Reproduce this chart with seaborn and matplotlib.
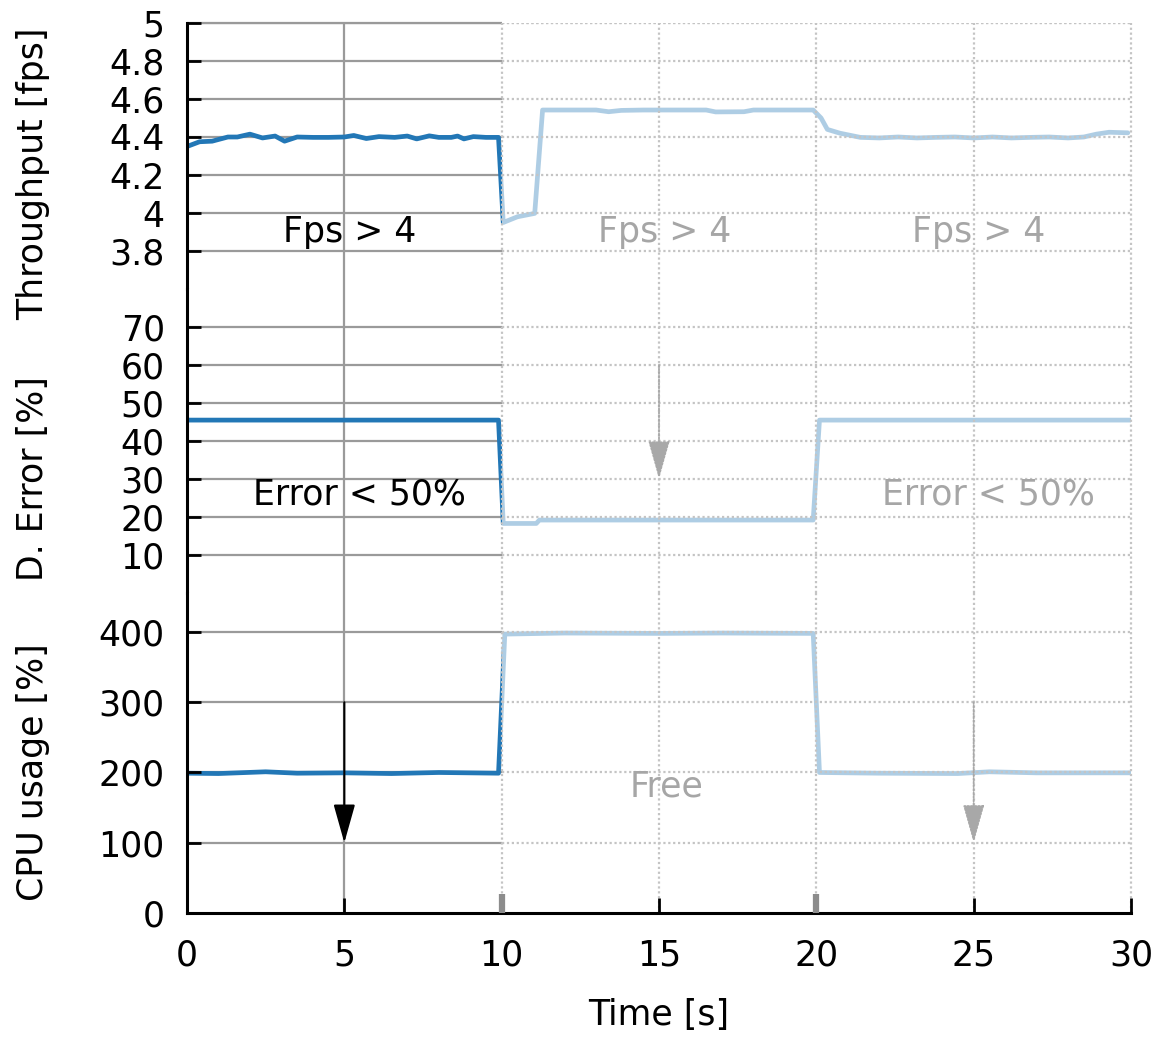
import numpy as np
import pandas as pd
import matplotlib
matplotlib.use("Agg")
import matplotlib.pyplot as plt
import seaborn as sns

# ---------------- data ----------------
thr_time = [0.0, 0.4, 0.8, 1.3, 1.6, 2.0, 2.4, 2.8, 3.1, 3.5, 4.0, 4.5, 5.0, 5.3, 5.7,
            6.1, 6.6, 7.0, 7.3, 7.7, 8.0, 8.4, 8.6, 8.8, 9.1, 9.5, 9.9, 10.05, 10.5,
            11.05, 11.3, 12.0, 13.0, 13.4, 13.8, 14.5, 15.5, 16.5, 16.8, 17.7, 18.0,
            19.0, 19.9, 20.15, 20.35, 20.75, 21.4, 22.0, 22.6, 23.2, 23.8, 24.4, 25.0,
            25.6, 26.2, 26.8, 27.4, 28.0, 28.5, 28.9, 29.3, 29.9]
thr_vals = [4.35, 4.375, 4.378, 4.40, 4.40, 4.415, 4.395, 4.405, 4.378, 4.40, 4.398,
            4.398, 4.40, 4.408, 4.392, 4.402, 4.398, 4.405, 4.39, 4.406, 4.398, 4.398,
            4.405, 4.39, 4.402, 4.398, 4.398, 3.95, 3.98, 3.998, 4.542, 4.542, 4.542,
            4.533, 4.54, 4.542, 4.542, 4.542, 4.532, 4.533, 4.542, 4.542, 4.542, 4.50,
            4.44, 4.42, 4.398, 4.395, 4.40, 4.395, 4.398, 4.40, 4.395, 4.40, 4.395,
            4.398, 4.40, 4.395, 4.40, 4.415, 4.425, 4.422]

err_time = [0.0, 9.9, 10.05, 11.1, 11.2, 19.9, 20.1, 30.0]
err_vals = [45.5, 45.5, 18.3, 18.3, 19.2, 19.2, 45.5, 45.5]

cpu_time = [0.0, 1.0, 2.5, 3.5, 5.0, 6.5, 8.0, 9.9, 10.1, 12.0, 15.0, 17.0, 19.9,
            20.1, 22.0, 24.5, 25.5, 27.0, 30.0]
cpu_vals = [199, 198.5, 201, 199, 199.5, 198.5, 200, 199, 397, 398.5, 398, 398.5, 398,
            200, 199, 198.5, 201, 199.5, 199.5]

x_ticks = [0, 5, 10, 15, 20, 25, 30]
thr_ticks = [3.8, 4.0, 4.2, 4.4, 4.6, 4.8, 5.0]
thr_labels = ["3.8", "4", "4.2", "4.4", "4.6", "4.8", "5"]
err_ticks = [10, 20, 30, 40, 50, 60, 70]
cpu_ticks = [0, 100, 200, 300, 400]

y_titles = ["Throughput [fps]", "D. Error [%]", "CPU usage [%]"]
x_title = "Time [s]"

# ---------------- style ----------------
sns.set_theme(style="white")
plt.rcParams["font.family"] = ["DejaVu Sans"]
plt.rcParams["text.color"] = "black"
plt.rcParams["axes.labelcolor"] = "black"
plt.rcParams["xtick.color"] = "black"
plt.rcParams["ytick.color"] = "black"

W, H = 1156, 1037
fig = plt.figure(figsize=(W / 100, H / 100), dpi=100)
gs = fig.add_gridspec(3, 1, height_ratios=[266, 304, 320], hspace=0,
                      left=187 / W, right=1131 / W, top=1 - 23 / H, bottom=1 - 913 / H)
ax0 = fig.add_subplot(gs[0])
ax1 = fig.add_subplot(gs[1], sharex=ax0)
ax2 = fig.add_subplot(gs[2], sharex=ax0)
axes = [ax0, ax1, ax2]

panels = [
    (ax0, thr_time, thr_vals, (3.6, 5.0), thr_ticks, thr_labels),
    (ax1, err_time, err_vals, (0, 80), err_ticks, [str(v) for v in err_ticks]),
    (ax2, cpu_time, cpu_vals, (0, 455.5), cpu_ticks, [str(v) for v in cpu_ticks]),
]

GRID_DARK = "#9a9a9a"
GRID_FADE = "#c4c4c4"
FADE_TXT = "#a6a6a6"
BLUE = "#2277b6"
DOT = (0, (1, 1.2))

for i, (ax, t, v, lim, ticks, labels) in enumerate(panels):
    df = pd.DataFrame({"t": t, "v": v})
    ax.set_axisbelow(False)
    ax.set_xlim(0, 30)
    ax.set_ylim(*lim)
    ax.set_yticks(ticks)
    ax.set_yticklabels(labels)
    for s in ["top", "right"]:
        ax.spines[s].set_visible(False)
    ax.spines["left"].set_color("black")
    ax.spines["left"].set_linewidth(2.2)
    if i < 2:
        ax.spines["bottom"].set_visible(False)
        ax.tick_params(axis="x", bottom=False, labelbottom=False)
    else:
        ax.spines["bottom"].set_color("black")
        ax.spines["bottom"].set_linewidth(2.2)
    ax.tick_params(axis="y", left=True, direction="in", length=10, width=2,
                   color="black", labelsize=25, pad=16, labelcolor="black")

    # grid: solid in first frame, dotted (faded) in others
    ax.axvline(5, color=GRID_DARK, lw=1.6, zorder=1)
    for xv in [10, 15, 20, 25, 30]:
        ax.axvline(xv, color=GRID_FADE, lw=1.6, ls=DOT, zorder=2.3, clip_on=False)
    gl = [y for y in ticks if y > lim[0]]
    ax.hlines(gl, 0, 10, color=GRID_DARK, lw=1.6, zorder=1)
    ax.hlines(gl + ([lim[1]] if i == 0 else []), 10, 30, color=GRID_FADE, lw=1.6,
              ls=DOT, zorder=2.3)
    if i == 0:
        ax.hlines([lim[1]], 0, 10, color=GRID_DARK, lw=1.6, zorder=1, clip_on=False)

    sns.lineplot(data=df, x="t", y="v", ax=ax, color=BLUE, lw=3.4, zorder=2,
                 estimator=None, sort=False)
    ax.axvspan(10, 30, color="white", alpha=0.64, lw=0, zorder=2.2)
    ax.set_xlabel("")
    ax.set_ylabel("")

ax2.set_xticks(x_ticks)
ax2.set_xticklabels([str(x) for x in x_ticks])
ax2.tick_params(axis="x", bottom=True, labelbottom=True, direction="in", length=11,
                width=2, color="black", labelsize=25, pad=18, labelcolor="black")
for tk, xv in zip(ax2.xaxis.get_major_ticks(), x_ticks):
    if xv in (10, 20):
        tk.tick1line.set_color("#8c8c8c")
        tk.tick1line.set_markeredgecolor("#8c8c8c")
        tk.tick1line.set_markeredgewidth(4.5)
        tk.tick1line.set_markersize(14)

# annotations
ax0.text(5.17, 3.9, "Fps > 4", ha="center", va="center", fontsize=25, color="black", zorder=3)
ax0.text(15.17, 3.9, "Fps > 4", ha="center", va="center", fontsize=25, color=FADE_TXT, zorder=2.4)
ax0.text(25.17, 3.9, "Fps > 4", ha="center", va="center", fontsize=25, color=FADE_TXT, zorder=2.4)
ax1.text(5.47, 25.8, "Error < 50%", ha="center", va="center", fontsize=25, color="black", zorder=3)
ax1.text(25.47, 25.8, "Error < 50%", ha="center", va="center", fontsize=25, color=FADE_TXT, zorder=2.4)
ax2.text(15.24, 180, "Free", ha="center", va="center", fontsize=25, color=FADE_TXT, zorder=2.4)

astyle = "-|>,head_length=1.6,head_width=0.45"
ax2.annotate("", xy=(5, 100), xytext=(5, 300),
             arrowprops=dict(arrowstyle=astyle, mutation_scale=15, color="black", lw=1.5,
                             shrinkA=0, shrinkB=0), zorder=3)
ax1.annotate("", xy=(15, 30), xytext=(15, 60),
             arrowprops=dict(arrowstyle=astyle, mutation_scale=15, color="#a8a8a8", lw=1.3,
                             ls=(0, (1, 1)), shrinkA=0, shrinkB=0), zorder=2.4)
ax2.annotate("", xy=(25, 100), xytext=(25, 300),
             arrowprops=dict(arrowstyle=astyle, mutation_scale=15, color="#a8a8a8", lw=1.3,
                             ls=(0, (1, 1)), shrinkA=0, shrinkB=0), zorder=2.4)

# axis titles
for txt, yc in zip(y_titles, [174, 479, 772]):
    fig.text(33 / W, 1 - yc / H, txt, rotation=90, ha="center", va="center", fontsize=25,
             color="black")
fig.text(659 / W, 1 - 1015 / H, x_title, ha="center", va="center", fontsize=25, color="black")

fig.savefig("out.png", dpi=100)
